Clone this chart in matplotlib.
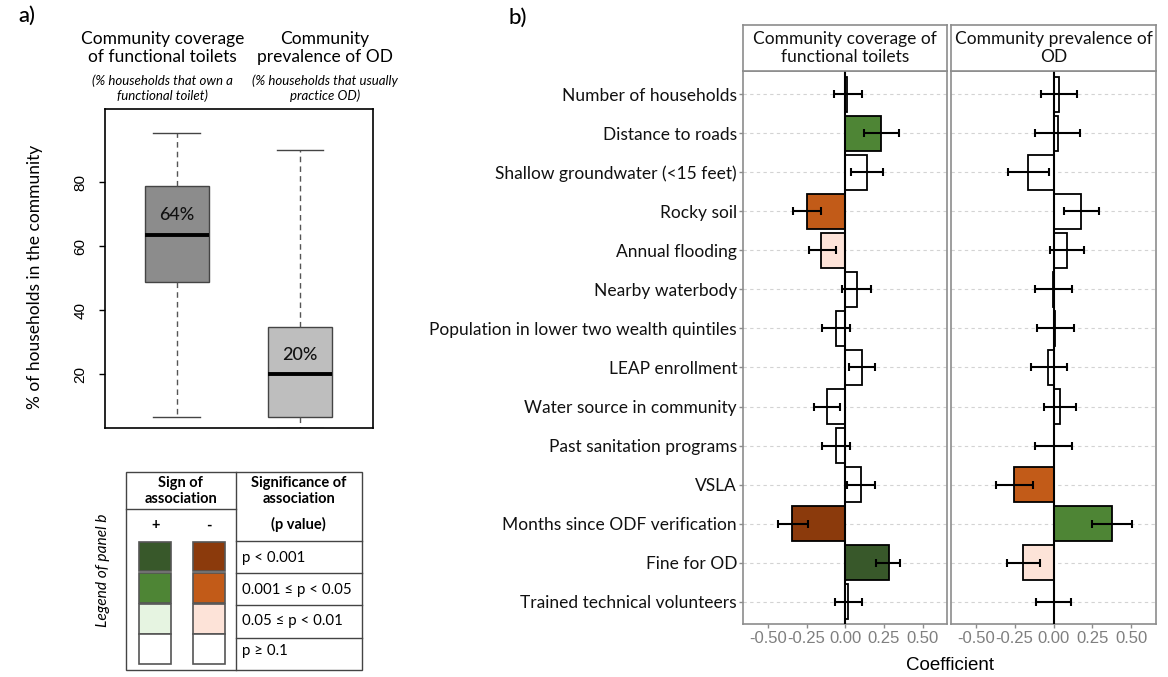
import numpy as np
import matplotlib
matplotlib.use('Agg')
import matplotlib.pyplot as plt
from matplotlib.patches import Rectangle

W, H = 1168, 677
GILL = ['Lato', 'DejaVu Sans']
HELV = ['Liberation Sans', 'DejaVu Sans']

# ---------------- Panel a data ----------------
box_titles = ['Community coverage\nof functional toilets', 'Community\nprevalence of OD']
box_subtitles = ['(% households that own a\nfunctional toilet)',
                 '(% households that usually\npractice OD)']
box_med = [63.7, 20.0]
box_q1 = [49.0, 6.5]
box_q3 = [79.0, 34.9]
box_lo = [6.5, 3.3]
box_hi = [95.5, 90.3]
box_text = ['64%', '20%']
box_colors = ['#8C8C8C', '#BEBEBE']
box_yticks = [20, 40, 60, 80]

# ---------------- Panel b data ----------------
predictors = ['Number of households', 'Distance to roads', 'Shallow groundwater (<15 feet)',
              'Rocky soil', 'Annual flooding', 'Nearby waterbody',
              'Population in lower two wealth quintiles', 'LEAP enrollment',
              'Water source in community', 'Past sanitation programs', 'VSLA',
              'Months since ODF verification', 'Fine for OD', 'Trained technical volunteers']
facets = ['Community coverage of\nfunctional toilets', 'Community prevalence of\nOD']

coef_cov = [0.01, 0.23, 0.14, -0.25, -0.155, 0.074, -0.06, 0.11, -0.12, -0.06, 0.10, -0.344, 0.28, 0.02]
lo_cov = [-0.07, 0.12, 0.04, -0.34, -0.234, -0.02, -0.15, 0.026, -0.203, -0.15, 0.01, -0.437, 0.197, -0.067]
hi_cov = [0.11, 0.35, 0.245, -0.16, -0.063, 0.165, 0.03, 0.195, -0.037, 0.03, 0.195, -0.24, 0.357, 0.11]
sig_cov = [3, 1, 3, 1, 2, 3, 3, 3, 3, 3, 3, 0, 0, 3]

coef_od = [0.036, 0.026, -0.165, 0.18, 0.088, -0.002, 0.01, -0.034, 0.045, 0.0, -0.253, 0.378, -0.195, 0.0]
lo_od = [-0.08, -0.12, -0.29, 0.07, -0.02, -0.122, -0.105, -0.146, -0.064, -0.118, -0.373, 0.25, -0.298, -0.112]
hi_od = [0.15, 0.17, -0.03, 0.294, 0.197, 0.122, 0.133, 0.086, 0.146, 0.116, -0.129, 0.504, -0.088, 0.114]
sig_od = [3, 3, 3, 3, 3, 3, 3, 3, 3, 3, 1, 1, 2, 3]

sig_labels = ['p < 0.001', '0.001 \u2264 p < 0.05', '0.05 \u2264 p < 0.01', 'p \u2265 0.1']
pos_colors = ['#38582A', '#4E8535', '#E6F4E1', '#FFFFFF']
neg_colors = ['#8B3A0C', '#C25B18', '#FDE3D8', '#FFFFFF']
x_ticks = [-0.5, -0.25, 0.0, 0.25, 0.5]
x_ticklabels = ['-0.50', '-0.25', '0.00', '0.25', '0.50']


def rect(x0, y0, x1, y1):
    return [x0 / W, 1 - y1 / H, (x1 - x0) / W, (y1 - y0) / H]


fig = plt.figure(figsize=(W / 100, H / 100), dpi=100)
fig.patch.set_facecolor('white')

# ---------------- Panel a: boxplot ----------------
axA = fig.add_axes(rect(105.3, 109, 372.7, 427.7))
stats = [dict(med=box_med[i], q1=box_q1[i], q3=box_q3[i], whislo=box_lo[i],
              whishi=box_hi[i], fliers=[]) for i in range(2)]
bp = axA.bxp(stats, positions=[1, 2], widths=0.52, patch_artist=True, showfliers=False,
             boxprops=dict(edgecolor='#444444', linewidth=1.0),
             medianprops=dict(color='black', linewidth=2.8, solid_capstyle='butt'),
             whiskerprops=dict(color='#555555', linestyle=(0, (4, 3)), linewidth=1.0),
             capprops=dict(color='#444444', linewidth=1.0))
for patch, c in zip(bp['boxes'], box_colors):
    patch.set_facecolor(c)
for cap in bp['caps']:
    xd = cap.get_xdata()
    m = np.mean(xd)
    cap.set_xdata([m - 0.19, m + 0.19])
axA.set_xlim(0.42, 2.59)
axA.set_ylim(3.25, 103)
axA.set_xticks([])
axA.set_yticks(box_yticks)
axA.set_yticklabels([str(t) for t in box_yticks], fontfamily=HELV, fontsize=11)
axA.tick_params(axis='y', length=4, width=1, pad=14)
for lbl in axA.get_yticklabels():
    lbl.set_rotation(90)
    lbl.set_ha('center')
    lbl.set_va('center')
for s in axA.spines.values():
    s.set_color('black')
    s.set_linewidth(1.2)
for i in range(2):
    axA.text(i + 1, box_med[i] + 6, box_text[i], ha='center', va='center',
             fontsize=13, fontfamily=GILL, fontweight='medium', color='#111111')

# ---------------- Panel b: facets ----------------
n = len(predictors)
yy = np.arange(n)
facet_rects = [rect(743.3, 70.7, 947.3, 624), rect(951, 70.7, 1156, 624)]
strip_rects = [rect(743.3, 25, 947.3, 70.7), rect(951, 25, 1156, 70.7)]
data = [(coef_cov, lo_cov, hi_cov, sig_cov), (coef_od, lo_od, hi_od, sig_od)]

for k in range(2):
    coef, lo, hi, sig = [np.array(v) for v in data[k]]
    ax = fig.add_axes(facet_rects[k])
    cols = [pos_colors[s] if c > 0 else neg_colors[s] for c, s in zip(coef, sig)]
    ax.barh(yy, coef, height=0.9, color=cols, edgecolor='black', linewidth=1.3, zorder=3)
    ax.errorbar(coef, yy, xerr=[coef - lo, hi - coef], fmt='none', ecolor='black',
                elinewidth=1.5, capsize=3.2, capthick=1.5, zorder=4)
    ax.axvline(0, color='black', linewidth=1.5, zorder=3.5)
    ax.set_xlim(-0.66, 0.66)
    ax.set_ylim(n - 0.43, -0.6)
    ax.set_yticks(yy)
    ax.yaxis.grid(True, linestyle=(0, (3, 3)), color='#D3D3D3', linewidth=0.8)
    ax.set_axisbelow(True)
    ax.set_xticks(x_ticks)
    ax.set_xticklabels(x_ticklabels, fontfamily=HELV, fontsize=12, color='#7F7F7F')
    ax.tick_params(axis='x', length=3, width=1, color='#8C8C8C', pad=2)
    if k == 0:
        ax.set_yticklabels(predictors, fontfamily=GILL, fontsize=12.5, color='#111111')
        ax.tick_params(axis='y', length=3, width=1, color='#8C8C8C', pad=1.5)
    else:
        ax.tick_params(axis='y', left=False, labelleft=False)
    for s in ax.spines.values():
        s.set_color('#8C8C8C')
        s.set_linewidth(1.2)

    st = fig.add_axes(strip_rects[k])
    st.set_xticks([])
    st.set_yticks([])
    for s in st.spines.values():
        s.set_color('#8C8C8C')
        s.set_linewidth(1.2)
    st.text(0.5, 0.5, facets[k], ha='center', va='center', transform=st.transAxes,
            fontsize=12.5, fontfamily=GILL, linespacing=1.15, color='#111111')

# ---------------- Overlay: titles, labels, legend table ----------------
ov = fig.add_axes([0, 0, 1, 1], zorder=10)
ov.set_xlim(0, W)
ov.set_ylim(H, 0)
ov.axis('off')
ov.patch.set_alpha(0)

ov.text(27, 16, 'a)', ha='center', va='center', fontsize=16, fontfamily=GILL, fontweight='medium')
ov.text(518, 18, 'b)', ha='center', va='center', fontsize=16, fontfamily=GILL, fontweight='medium')

title_x = [162.5, 325]
for i in range(2):
    ov.text(title_x[i], 48, box_titles[i], ha='center', va='center', fontsize=12.5,
            fontfamily=GILL, linespacing=1.2)
    ov.text(title_x[i], 88.5, box_subtitles[i], ha='center', va='center', fontsize=9.5,
            fontfamily=GILL, style='italic', linespacing=1.25)

ov.text(35, 277, '% of households in the community', rotation=90, ha='center', va='center',
        fontsize=12.5, fontfamily=GILL)
ov.text(950, 665, 'Coefficient', ha='center', va='center', fontsize=13.5, fontfamily=HELV)

# legend table
lc = '#444444'
tx0, tx1, ty0, ty1, tdiv = 125.7, 361.7, 471.7, 670, 235.7
ov.add_patch(Rectangle((tx0, ty0), tx1 - tx0, ty1 - ty0, fill=False, edgecolor=lc, linewidth=1.0))
ov.plot([tdiv, tdiv], [ty0, ty1], color=lc, linewidth=1.0)
ov.plot([tx0, tdiv], [509.3, 509.3], color=lc, linewidth=1.0)
for yl in [541, 573.3, 605, 637.7]:
    ov.plot([tdiv, tx1], [yl, yl], color=lc, linewidth=1.0)

ov.text(180.7, 491, 'Sign of\nassociation', ha='center', va='center', fontsize=10.5,
        fontfamily=GILL, fontweight='bold', linespacing=1.1)
ov.text(298.7, 491, 'Significance of\nassociation', ha='center', va='center', fontsize=10.5,
        fontfamily=GILL, fontweight='bold', linespacing=1.1)
ov.text(298.7, 524.5, '(p value)', ha='center', va='center', fontsize=10.5,
        fontfamily=GILL, fontweight='bold')
ov.text(155.3, 525.5, '+', ha='center', va='center', fontsize=10.5, fontfamily=GILL, fontweight='bold')
ov.text(209, 526, '-', ha='center', va='center', fontsize=10.5, fontfamily=GILL, fontweight='bold')

sw_x = [139.3, 193.3]
sw_y = [541.7, 573.3, 604, 634]
sw_w, sw_h = 31.3, 29.5
for j in range(4):
    for col, palette in enumerate([pos_colors, neg_colors]):
        ov.add_patch(Rectangle((sw_x[col], sw_y[j]), sw_w, sw_h, facecolor=palette[j],
                               edgecolor='#555555', linewidth=1.2))
    ov.text(241.7, sw_y[j] + 16.5, sig_labels[j], ha='left', va='center', fontsize=10.8,
            fontfamily=GILL)

ov.text(103.3, 570, 'Legend of panel b', rotation=90, ha='center', va='center', fontsize=11.2,
        fontfamily=GILL, style='italic')

fig.savefig('out.png', dpi=100, facecolor='white')
